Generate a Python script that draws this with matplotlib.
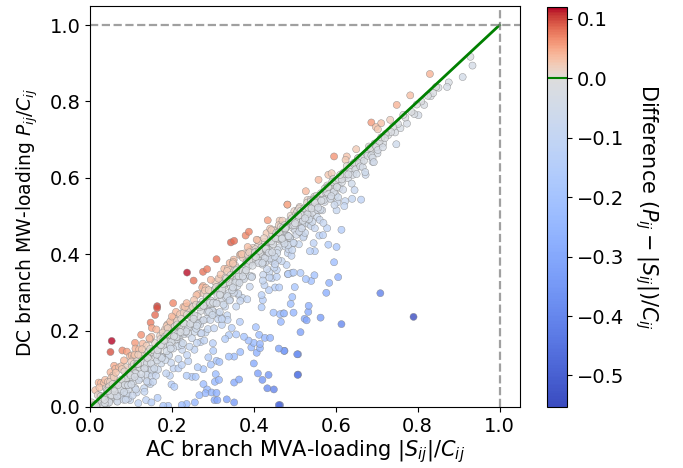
import numpy as np
import matplotlib
matplotlib.use('Agg')
import matplotlib.pyplot as plt
from matplotlib.colors import ListedColormap, Normalize, TwoSlopeNorm

# points well above the diagonal
ac_above = [.053,.050,.059,.079,.090,.110,.125,.148,.151,.159,.164,.164,.203,.237,.253,.276,.286,.309,.344,.352,.380,.388,.434,.482,
            .830,.782,.749,.687,.711,.733,.698,.703,.596,.650,.627,.624,.558,.582,.590,.527,.482]
dc_above = [.173,.144,.108,.148,.145,.168,.189,.221,.207,.241,.264,.259,.272,.352,.331,.354,.361,.387,.431,.435,.449,.459,.489,.530,
            .872,.816,.791,.745,.743,.752,.733,.727,.656,.675,.656,.647,.595,.608,.612,.565,.530]

# upper right part of the cloud
ac_top = [.929,.934,.910,.876,.872,.851,.832,.816,.802,.792,.774,.758,.748,.745,.728,.716,.702,.690,.673,.663,.646,.662,.640,.623,.621,.602,.604,
          .845,.838,.825,.809,.798,.785,.770,.765,.752,.740,.735,.722,.712,.705,.695,.684,.678,.668,.655,.648,.636,.630,.617,.612,.606,.598,.592]
dc_top = [.917,.894,.864,.850,.838,.836,.814,.791,.764,.767,.742,.730,.688,.719,.712,.690,.664,.642,.608,.641,.568,.543,.545,.539,.526,.515,.536,
          .838,.822,.815,.800,.792,.773,.758,.765,.741,.733,.720,.715,.706,.688,.690,.672,.664,.658,.652,.628,.633,.610,.612,.595,.588,.590,.571]

# sparse blue points under the cloud, right half
ac_low = [.614,.579,.582,.602,.596,.606,.584,.577,.709,.790,.563,.614,.514,.524,.529,.533,.534,.497,.490,.494,.500,.475,.508,.508,.464,.466,.472,
          .540,.527,.548,.514,.493,.483,.549,.537,.546,.560,.569,.461,.507,.506,.449,.433,.436,.421,.410,.400,.474,.461,.407,.415,.394,.400,.415,.387,.376,
          .413,.427,.440,.405,.464,.448,.474,.419,.422,.419,.452,.462,.437,.426,.444,.456,.438,.456,.484,.497,.480,.468]
dc_low = [.464,.468,.425,.419,.379,.340,.325,.299,.298,.236,.234,.217,.196,.231,.227,.249,.265,.247,.270,.288,.314,.147,.138,.085,.005,.223,.245,
          .330,.335,.345,.351,.351,.348,.408,.408,.429,.449,.450,.005,.084,.138,.046,.049,.084,.071,.088,.114,.147,.153,.142,.154,.156,.168,.165,.174,.184,
          .189,.181,.181,.209,.243,.247,.245,.261,.280,.293,.313,.313,.306,.319,.337,.341,.353,.359,.348,.352,.372,.382]

# sparse blue points, left half
ac_mid = [.367,.352,.339,.346,.357,.339,.330,.366,.300,.301,.289,.309,.316,.295,.277,.263,.249,.236,.258,.307,.305,.315,.277,.286,.282,.267,.297,.309,
          .352,.364,.304,.311,.334,.352,.256,.236,.224,.191,.179,.137,.199,.206,.195,.204,.216,.224,.165,.150,.118,.098,.240,.255,.270,.282,.322,.335]
dc_mid = [.144,.132,.132,.207,.190,.188,.178,.223,.167,.147,.130,.121,.118,.111,.099,.104,.079,.082,.079,.086,.066,.071,.060,.046,.036,.031,.038,.037,
          .064,.072,.018,.018,.020,.012,.012,.008,.005,.003,.003,.018,.059,.053,.082,.101,.101,.110,.024,.012,.010,.018,.120,.150,.170,.195,.215,.240]

# dense band along the diagonal: AC loading and the gap P-S
ac_band = [.004,.009,.013,.017,.021,.024,.011,.027,.031,.019,.034,.015,.037,.026,.041,.029,.044,.023,.047,.035,.050,.039,.053,.033,
           .056,.043,.059,.048,.062,.038,.065,.052,.068,.045,.071,.057,.074,.049,.077,.061,.080,.054,.083,.066,.086,.058,.089,.070,
           .092,.063,.095,.075,.098,.067,.047,.082,.036,.073,.088,.078,.093,.084,.099,.102,.085,.105,.090,.108,.096,.111,.079,.114,
           .101,.117,.087,.120,.106,.123,.094,.126,.110,.129,.100,.132,.115,.135,.104,.138,.119,.141,.109,.144,.124,.147,.113,.150,
           .128,.153,.118,.156,.133,.159,.122,.162,.137,.165,.127,.168,.142,.171,.131,.174,.146,.177,.136,.180,.151,.183,.140,.186,
           .155,.189,.145,.192,.160,.195,.149,.198,.164,.112,.125,.139,.154,.170,.178,.185,.193,.201,.169,.204,.175,.207,.161,.210,
           .181,.213,.166,.216,.187,.219,.172,.222,.191,.225,.179,.228,.197,.231,.184,.234,.202,.237,.190,.240,.206,.243,.196,.246,
           .211,.249,.200,.252,.215,.255,.205,.258,.220,.261,.209,.264,.224,.267,.214,.270,.229,.273,.218,.276,.233,.279,.223,.282,
           .238,.285,.227,.288,.242,.291,.232,.294,.247,.297,.236,.300,.251,.303,.241,.306,.256,.309,.245,.312,.260,.315,.250,.318,
           .265,.321,.254,.324,.269,.327,.259,.330,.274,.333,.263,.336,.278,.339,.268,.342,.283,.345,.272,.348,.287,.351,.277,.354,
           .292,.357,.281,.360,.296,.363,.286,.366,.301,.369,.290,.372,.305,.375,.295,.378,.310,.381,.299,.384,.314,.387,.304,.390,
           .319,.393,.308,.396,.323,.399,.313,.402,.328,.405,.317,.408,.332,.411,.322,.414,.337,.417,.326,.420,.341,.423,.331,.426,
           .346,.429,.335,.432,.350,.435,.340,.438,.355,.441,.344,.444,.359,.447,.349,.450,.364,.453,.353,.456,.368,.459,.358,.462,
           .373,.465,.362,.468,.377,.471,.367,.474,.382,.477,.371,.480,.386,.483,.376,.486,.391,.489,.380,.492,.395,.495,.385,.498,
           .400,.501,.389,.504,.404,.507,.394,.510,.409,.513,.398,.516,.413,.519,.403,.522,.418,.525,.407,.528,.422,.531,.412,.534,
           .427,.537,.416,.540,.431,.543,.421,.546,.436,.549,.425,.552,.440,.555,.430,.558,.445,.561,.434,.564,.449,.567,.439,.570,
           .454,.573,.443,.576,.458,.579,.448,.582,.463,.585,.452,.588,.467,.591,.457,.594,.472,.597,.461,.600,.476,.603,.466,.606,
           .481,.609,.470,.612,.485,.615,.475,.618,.490,.621,.479,.624,.494,.627,.484,.630,.499,.633,.488,.636,.503,.639,.493,.642,
           .508,.645,.497,.648,.512,.651,.502,.654,.517,.657,.506,.660,.521,.663,.511,.666,.526,.669,.515,.672,.530,.675,.520,.678,
           .535,.681,.525,.684,.539,.687,.529,.690,.544,.693,.534,.696,.548,.699,.538,.703,.553,.707,.543,.711,.557,.715,.547,.720]
gap_band = [.008,-.004,.031,-.009,.043,.006,-.007,.036,-.018,.012,.029,-.012,.034,.002,-.026,-.015,.022,.028,-.031,-.006,.041,.010,-.021,-.027,
            .026,-.034,.013,-.014,.038,-.029,-.003,.024,-.040,.005,.033,-.019,-.047,.017,.030,-.037,-.009,-.024,.039,-.051,.008,.020,-.016,-.032,
            -.058,.027,.003,-.044,.035,-.053,-.035,-.063,-.026,-.011,.016,.021,-.071,.009,-.028,.033,-.042,-.006,-.055,.025,-.017,.042,-.030,-.076,
            .018,-.012,-.068,.031,-.039,-.001,-.048,.014,-.060,.037,-.022,-.083,.006,-.033,-.074,.022,-.045,-.010,.028,-.056,.012,-.087,-.027,.034,
            -.003,-.041,.019,-.064,-.093,.008,-.019,.041,-.052,-.034,.024,-.007,-.078,.015,-.025,-.060,.031,-.046,-.012,.004,-.070,.020,-.037,-.098,
            -.015,.027,.035,-.055,-.029,.011,-.005,-.082,-.042,-.066,-.050,-.072,-.088,-.036,.017,-.021,-.058,.002,-.008,.030,-.044,-.024,-.079,.039,
            -.014,.013,-.068,-.090,.025,-.033,.006,-.051,-.003,-.075,-.018,.034,.020,-.040,-.061,.009,-.028,-.101,.016,-.048,-.011,-.085,.028,.003,
            -.034,-.069,.037,-.022,-.056,.012,-.006,-.043,.023,-.093,-.016,.032,-.062,.001,-.030,-.077,.018,-.047,-.009,.041,-.037,-.105,.008,-.024,
            .026,-.054,-.013,-.084,.015,-.039,.030,-.066,-.004,-.020,.036,-.049,.011,-.097,-.029,.021,-.059,.005,-.035,-.012,.033,-.072,-.018,.017,
            -.044,-.088,.026,.002,-.053,-.031,.009,-.067,.039,-.008,-.025,-.108,.019,-.040,-.002,-.061,.029,-.015,-.079,.013,-.034,.035,-.050,-.006,
            -.022,-.094,.024,-.043,.007,-.070,-.011,.032,-.056,-.028,.016,-.086,.003,-.037,.038,-.019,-.064,.010,-.047,-.102,.022,-.005,-.031,-.075,
            .028,-.014,.006,-.054,-.040,.018,-.083,-.009,.034,-.025,-.068,.001,-.045,.012,-.092,-.033,.026,-.003,-.058,-.017,.036,-.077,.008,-.038,
            -.012,-.049,.021,-.071,.030,-.021,-.006,-.099,.015,-.042,-.028,-.062,.004,-.016,.027,-.085,-.034,.010,-.052,.001,.032,-.074,-.024,-.044,
            .018,-.010,-.065,.006,.025,-.036,-.089,-.019,-.002,-.057,.029,-.030,.012,-.080,-.041,-.007,.020,-.048,-.015,-.096,.003,-.026,.034,-.069,
            -.011,-.039,.016,-.053,.009,-.022,-.004,-.084,.028,-.046,-.013,-.060,.022,-.033,.002,-.075,-.018,-.043,.031,-.007,-.091,.011,-.029,-.055,
            .005,-.037,-.016,-.066,.024,-.009,-.048,-.024,-.001,-.081,.017,-.032,.027,-.058,-.012,-.042,.007,-.071,-.020,-.004,.013,-.052,-.028,-.088,
            -.006,-.036,.020,-.015,-.047,.001,-.063,-.025,.025,-.009,-.078,-.040,.010,-.018,-.054,.003,-.030,-.068,.015,-.044,-.011,-.023,.006,-.057,
            -.003,-.035,.018,-.014,-.072,-.027,.001,-.049,.011,-.006,-.039,-.019,-.083,.004,-.060,-.031,.014,-.010,-.045,-.021,.002,-.054,-.016,-.034,
            .008,-.005,-.067,-.026,.012,-.041,-.012,-.003,-.050,-.019,.006,-.030,-.077,-.008,.009,-.038,-.015,-.024,-.001,-.057,.005,-.011,-.032,-.020,
            -.045,.001,-.069,-.006,.004,-.028,-.014,-.037,-.002,-.052,-.023,-.009,.003,-.018,-.041,-.030,.000,-.012,-.058,-.005,-.021,-.035,-.003,-.016]

# tight core right under the diagonal, where the marks pile up
ac_core = [.030,.052,.041,.063,.036,.071,.047,.058,.079,.044,.066,.088,.055,.074,.095,.060,.083,.103,.069,.091,.111,.077,.099,.119,
           .085,.107,.127,.093,.115,.135,.101,.123,.143,.109,.131,.151,.117,.139,.159,.125,.147,.167,.133,.155,.175,.141,.163,.183,
           .149,.171,.191,.157,.179,.199,.165,.187,.207,.173,.195,.215,.181,.203,.223,.189,.211,.231,.197,.219,.239,.205,.227,.247,
           .213,.235,.255,.221,.243,.263,.229,.251,.271,.237,.259,.279,.245,.267,.287,.253,.275,.295,.261,.283,.303,.269,.291,.311,
           .277,.299,.319,.285,.307,.327,.293,.315,.335,.301,.323,.343,.309,.331,.351,.317,.339,.359,.325,.347,.367,.333,.355,.375,
           .341,.363,.383,.349,.371,.391,.357,.379,.399,.365,.387,.407,.373,.395,.415,.381,.403,.423,.389,.411,.431,.397,.419,.439,
           .405,.427,.447,.413,.435,.455,.421,.443,.463,.429,.451,.471,.437,.459,.479,.445,.467,.487,.453,.475,.495,.461,.483,.503,
           .469,.491,.511,.477,.499,.519,.485,.507,.527,.493,.515,.535,.501,.523,.543,.509,.531,.551,.517,.539,.559,.525,.547,.567,
           .533,.555,.575,.541,.563,.583,.549,.571,.591,.557,.579,.599,.565,.587,.607,.573,.595,.615,.581,.603,.623,.589,.611,.631]
gap_core = [-.006,-.021,.004,-.013,-.017,-.031,.007,-.009,-.024,-.002,-.038,-.014,.005,-.028,-.007,-.019,-.044,.003,-.011,-.033,-.023,-.005,-.016,-.049,
            -.027,.006,-.012,-.036,-.003,-.021,-.042,-.008,.002,-.030,-.015,-.053,-.004,-.025,-.010,-.039,.005,-.018,-.032,-.006,-.047,-.013,-.026,.001,
            -.035,-.009,-.020,-.056,-.002,-.029,-.016,-.041,.004,-.011,-.034,-.023,-.007,-.050,-.018,.002,-.028,-.012,-.044,-.005,-.031,-.020,-.060,-.009,
            .003,-.037,-.015,-.025,-.004,-.046,-.010,-.033,-.019,.005,-.054,-.013,-.027,-.006,-.039,-.022,.001,-.016,-.048,-.008,-.030,-.003,-.042,-.018,
            -.012,-.058,-.025,.004,-.035,-.010,-.020,-.005,-.045,-.028,-.015,.002,-.038,-.007,-.052,-.023,-.012,-.032,-.003,-.041,-.017,.003,-.029,-.009,
            -.062,-.021,-.005,-.036,-.014,-.048,.001,-.026,-.008,-.040,-.018,-.003,-.031,-.055,-.011,-.023,.002,-.043,-.006,-.034,-.016,-.027,-.001,-.050,
            -.012,-.037,-.021,-.004,-.030,.001,-.044,-.009,-.024,-.015,-.057,-.002,-.033,-.018,-.007,-.040,-.026,.000,-.011,-.047,-.020,-.004,-.035,-.014,
            -.028,-.001,-.052,-.009,-.023,-.016,-.038,-.005,-.030,.001,-.012,-.043,-.020,-.003,-.034,-.008,-.026,-.015,-.049,-.001,-.018,-.031,-.006,-.024,
            -.011,-.039,-.003,-.021,-.046,-.008,-.014,-.029,-.002,-.035,-.017,-.006,-.025,-.042,-.010,-.001,-.032,-.019,-.005,-.027,-.013,-.037,-.003,-.022]

cbar_ticks = [0.1, 0.0, -0.1, -0.2, -0.3, -0.4, -0.5]
vmin, vmax = -0.553, 0.12

ac_dense = np.array(ac_band + ac_core)
dc_dense = ac_dense + np.array(gap_band + gap_core)

ac = np.concatenate([ac_above, ac_top, ac_low, ac_mid, ac_dense])
dc = np.concatenate([dc_above, dc_top, dc_low, dc_mid, dc_dense])
keep = dc > 0
ac, dc = ac[keep], dc[keep]
diff = dc - ac

# coolwarm, stretched so that the grey middle sits at zero
levels = np.linspace(vmin, vmax, 256)
cmap = ListedColormap(plt.cm.coolwarm(TwoSlopeNorm(vmin=vmin, vcenter=0.0, vmax=vmax)(levels)))
norm = Normalize(vmin=vmin, vmax=vmax)

fig = plt.figure(figsize=(6.83, 4.68), dpi=100)
W, H = 683.0, 468.0
ax = fig.add_axes([90/W, 1-407/H, 430/W, 401/H])
cax = fig.add_axes([547/W, 1-407/H, 20/W, 400/H])

sc = ax.scatter(ac, dc, c=diff, cmap=cmap, norm=norm, s=26,
                edgecolors='gray', linewidths=0.35, alpha=0.8)
ax.plot([0, 1], [0, 1], color='green', linewidth=2)
ax.axhline(1.0, color='gray', linestyle='--', linewidth=1.6, alpha=0.75)
ax.axvline(1.0, color='gray', linestyle='--', linewidth=1.6, alpha=0.75)

ax.set_xlim(0, 1.05)
ax.set_ylim(0, 1.05)
ax.set_xticks([0, 0.2, 0.4, 0.6, 0.8, 1.0])
ax.set_yticks([0, 0.2, 0.4, 0.6, 0.8, 1.0])
ax.tick_params(labelsize=14)
ax.set_xlabel(r'AC branch MVA-loading $|S_{ij}|/C_{ij}$', fontsize=15, labelpad=2)
ax.set_ylabel(r'DC branch MW-loading $P_{ij}/C_{ij}$', fontsize=13.5, labelpad=7, y=0.46)

cb = fig.colorbar(sc, cax=cax, ticks=cbar_ticks)
cb.solids.set_alpha(1)
cb.ax.tick_params(labelsize=14)
cb.ax.axhline(0.0, color='green', linewidth=1.5)
cb.set_label(r'Difference $(P_{ij}-|S_{ij}|)/C_{ij}$', fontsize=15, rotation=270, labelpad=26)

fig.savefig('out.png', dpi=100)
